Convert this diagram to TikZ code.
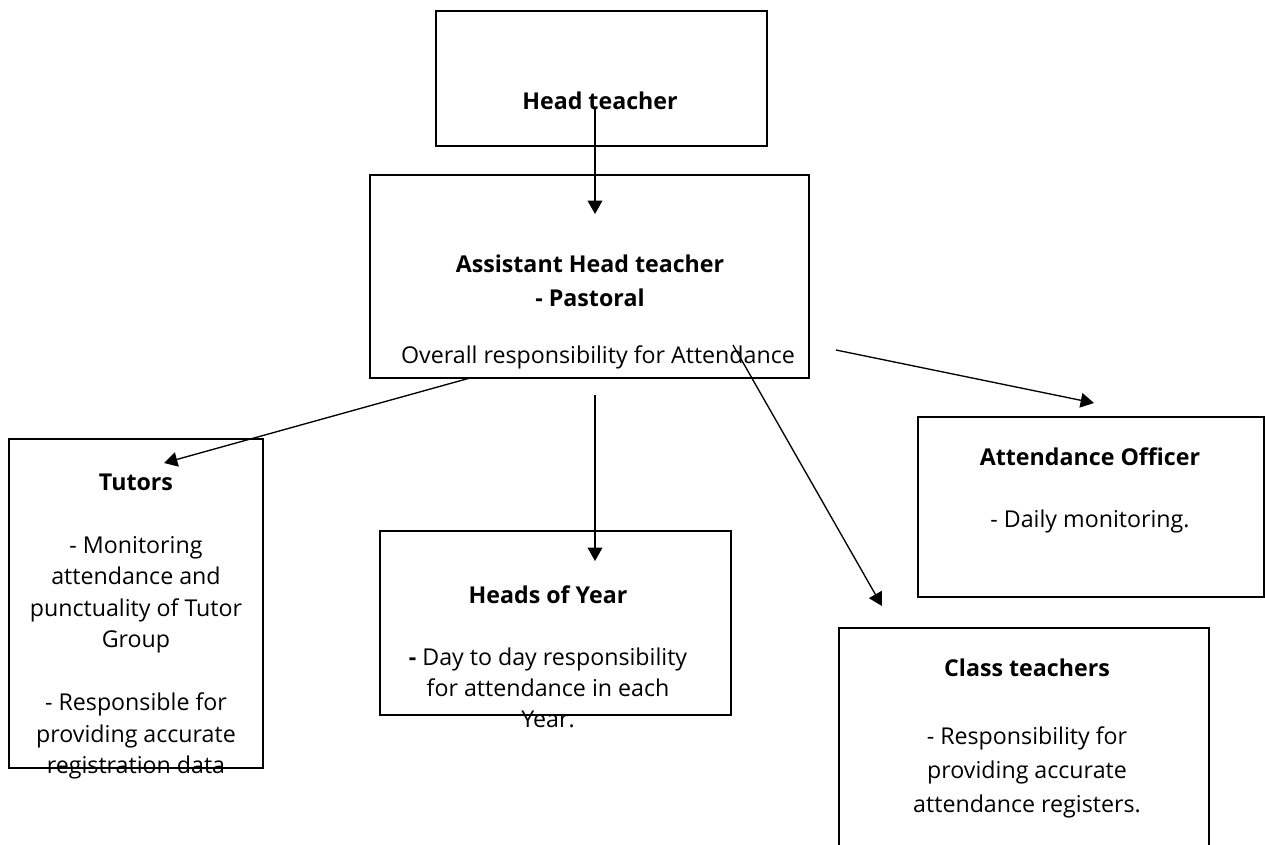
\documentclass[tikz,border=0pt]{standalone}
\usepackage{fontspec}
\setmainfont{Open Sans}
\usetikzlibrary{arrows.meta}
\begin{document}
\begin{tikzpicture}[x=0.75pt,y=-0.75pt,
  box/.style={draw,line width=0.9pt,inner sep=0pt},
  txt/.style={align=center,inner sep=0pt,font=\fontsize{17.4}{23.6}\selectfont},
  arr/.style={line width=1pt,-{Triangle[length=10pt,width=11pt]}}]
\useasboundingbox (0,0) rectangle (1265,844);
\clip (0,0) rectangle (1265,844);
% boxes
\node[box,minimum width=331*0.75pt,minimum height=135*0.75pt] (hbox) at (601.5,78.5) {};
\node[box,minimum width=439*0.75pt,minimum height=203*0.75pt] (abox) at (589.5,276.5) {};
\node[box,minimum width=254*0.75pt,minimum height=329*0.75pt] (tbox) at (136,603.5) {};
\node[box,minimum width=351*0.75pt,minimum height=184*0.75pt] (ybox) at (555.5,623) {};
\node[box,minimum width=346*0.75pt,minimum height=180*0.75pt] (obox) at (1091,507) {};
\node[box,minimum width=370*0.75pt,minimum height=260*0.75pt] (cbox) at (1024,758) {};
% texts
\node[txt,font=\fontsize{17.4}{23.6}\selectfont\bfseries] (htxt) at (600,101) {Head teacher};
\node[txt,font=\fontsize{17.4}{25.5}\selectfont\bfseries] (atxt) at (590,281) {Assistant Head teacher\\- Pastoral};
\node[txt] (aover) at (598,357) {Overall responsibility for Attendance};
\node[txt] (ttxt) at (136,626.5) {\textbf{Tutors}\\[23.6pt]- Monitoring\\attendance and\\punctuality of Tutor\\Group\\[23.6pt]- Responsible for\\providing accurate\\registration data};
\node[txt,font=\fontsize{17.4}{23.2}\selectfont] (ytxt) at (548,656.5) {\textbf{Heads of Year}\\[23.2pt]\textbf{-} Day to day responsibility\\for attendance in each\\Year.};
\node[txt,font=\fontsize{17.4}{23}\selectfont] (otxt) at (1090,490.5) {\textbf{Attendance Officer}\\[23pt]- Daily monitoring.};
\node[txt,font=\fontsize{17.4}{25.5}\selectfont] (ctxt) at (1027,738) {\textbf{Class teachers}\\[25.5pt]- Responsibility for\\providing accurate\\attendance registers.};
% connector ends
\coordinate (h1) at (595,108);
\coordinate (a1) at (595,214);
\coordinate (t0) at (470,378);
\coordinate (t1) at (164,463);
\coordinate (y0) at (595,395);
\coordinate (y1) at (595,561);
\coordinate (c0) at (733,345);
\coordinate (c1) at (882,606);
\coordinate (o0) at (836,350);
\coordinate (o1) at (1094,403);
\draw[arr] (h1) -- (a1);
\draw[arr] (t0) -- (t1);
\draw[arr] (y0) -- (y1);
\draw[arr] (c0) -- (c1);
\draw[arr] (o0) -- (o1);
\end{tikzpicture}
\end{document}
